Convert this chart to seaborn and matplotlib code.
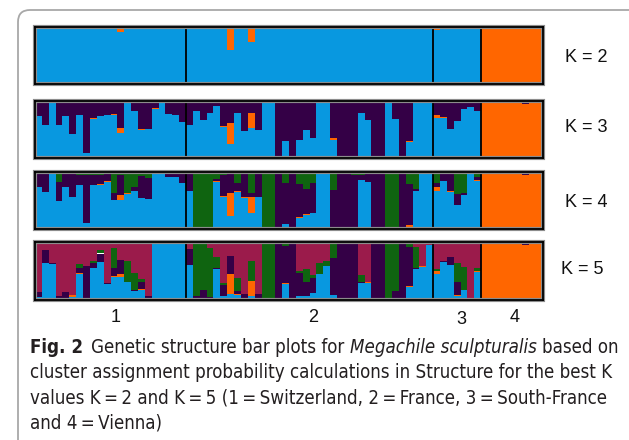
import numpy as np
import pandas as pd
import matplotlib
matplotlib.use("Agg")
import matplotlib.pyplot as plt
import seaborn as sns
from matplotlib import font_manager
from matplotlib.patches import FancyBboxPatch, Rectangle
from matplotlib.transforms import IdentityTransform

# ------------------------------------------------------------
# data: STRUCTURE membership (q) per individual, 74 bees
# pops: 1 = Switzerland, 2 = France, 3 = South-France, 4 = Vienna
# top cluster of every panel is whatever is left up to 1
# ------------------------------------------------------------
pop_sizes = [22, 36, 7, 9]
pop_labels = ["1", "2", "3", "4"]
k_labels = ["K = 2", "K = 3", "K = 4", "K = 5"]

# K = 2 : blue (orange is the rest)
k2_blue = [
    0.98, 0.98, 0.98, 0.98, 0.98, 1.00, 0.98, 0.98, 0.98, 0.98, 0.98, 0.98, 0.92, 0.98, 0.98, 0.98, 0.98, 0.98, 0.98, 0.98, 0.98, 0.98,
    0.98, 0.98, 0.98, 0.98, 0.98, 0.98, 0.60, 0.98, 0.98, 0.74, 0.98, 0.98, 0.98, 0.98, 0.98, 0.98, 0.98, 0.98,
    0.98, 0.98, 0.98, 0.98, 0.98, 0.98, 0.98, 0.98, 0.98, 0.98, 0.98, 0.98, 0.98, 0.98, 0.98, 0.98, 0.98, 0.98,
    0.94, 0.98, 0.98, 0.98, 0.98, 0.98, 0.98,
    0.02, 0.02, 0.02, 0.02, 0.02, 0.02, 0.03, 0.02, 0.02]

# K = 3 : blue, orange (purple is the rest)
k3_blue = [
    0.74, 0.58, 1.00, 0.58, 0.74, 0.42, 0.76, 0.10, 0.69, 0.74, 0.76, 0.76, 0.44, 0.96, 0.83, 0.50, 0.51, 0.86, 0.96, 0.77, 0.76, 0.63,
    0.58, 0.83, 0.67, 0.79, 0.92, 0.55, 0.25, 0.79, 0.48, 0.53, 0.49, 0.97, 0.97, 0.00, 0.30, 0.00, 0.33, 0.49,
    0.35, 0.98, 0.98, 0.33, 0.00, 0.00, 0.00, 0.79, 0.67, 0.00, 0.00, 0.99, 0.69, 0.00, 0.29, 0.98, 0.98, 0.98,
    0.71, 0.71, 0.51, 0.65, 0.86, 0.90, 0.82,
    0.00, 0.00, 0.00, 0.00, 0.00, 0.00, 0.00, 0.00, 0.00]
k3_orange = [
    0.00, 0.00, 0.00, 0.00, 0.00, 0.00, 0.00, 0.00, 0.01, 0.00, 0.00, 0.015, 0.095, 0.01, 0.00, 0.01, 0.00, 0.01, 0.01, 0.00, 0.00, 0.01,
    0.00, 0.00, 0.00, 0.00, 0.00, 0.01, 0.36, 0.00, 0.00, 0.26, 0.01, 0.02, 0.02, 0.00, 0.00, 0.00, 0.00, 0.00,
    0.00, 0.02, 0.02, 0.02, 0.00, 0.00, 0.00, 0.00, 0.00, 0.00, 0.00, 0.00, 0.00, 0.00, 0.01, 0.02, 0.02, 0.00,
    0.05, 0.01, 0.01, 0.01, 0.00, 0.00, 0.01,
    1.00, 1.00, 1.00, 1.00, 1.00, 1.00, 0.94, 1.00, 1.00]

# K = 4 : blue, orange, purple (green is the rest)
k4_blue = [
    0.74, 0.65, 0.975, 0.49, 0.74, 0.56, 0.77, 0.11, 0.78, 0.78, 0.83, 0.52, 0.52, 0.62, 0.67, 0.54, 0.525, 0.99, 0.99, 0.91, 0.91, 0.80,
    0.67, 0.00, 0.00, 0.04, 0.83, 0.57, 0.24, 0.65, 0.54, 0.28, 0.56, 0.00, 0.00, 0.00, 0.09, 0.00, 0.20, 0.26,
    0.28, 0.96, 0.975, 0.02, 0.00, 0.00, 0.00, 0.86, 0.825, 0.00, 0.00, 0.00, 0.00, 0.00, 0.05, 0.675, 1.00, 1.00,
    0.675, 0.84, 0.656, 0.42, 0.60, 1.00, 0.84,
    0.00, 0.00, 0.00, 0.00, 0.00, 0.00, 0.00, 0.00, 0.00]
k4_orange = [
    0.00, 0.00, 0.015, 0.01, 0.00, 0.01, 0.00, 0.00, 0.00, 0.01, 0.01, 0.00, 0.075, 0.01, 0.00, 0.00, 0.00, 0.00, 0.00, 0.00, 0.00, 0.01,
    0.00, 0.00, 0.00, 0.01, 0.02, 0.02, 0.39, 0.02, 0.02, 0.28, 0.00, 0.00, 0.00, 0.00, 0.00, 0.00, 0.01, 0.01,
    0.00, 0.00, 0.00, 0.00, 0.00, 0.00, 0.00, 0.00, 0.00, 0.00, 0.00, 0.00, 0.00, 0.00, 0.025, 0.00, 0.00, 0.00,
    0.06, 0.01, 0.02, 0.00, 0.00, 0.00, 0.02,
    1.00, 1.00, 1.00, 1.00, 1.00, 1.00, 0.945, 1.00, 1.00]
k4_purple = [
    0.235, 0.34, 0.00, 0.32, 0.235, 0.41, 0.17, 0.83, 0.17, 0.15, 0.14, 0.12, 0.35, 0.00, 0.075, 0.39, 0.37, 0.00, 0.00, 0.08, 0.08, 0.17,
    0.32, 0.00, 0.04, 0.00, 0.025, 0.36, 0.36, 0.135, 0.43, 0.08, 0.43, 0.00, 0.00, 1.00, 0.71, 1.00, 0.575, 0.44,
    0.53, 0.00, 0.00, 0.66, 1.00, 1.00, 0.955, 0.09, 0.175, 1.00, 1.00, 0.00, 0.02, 1.00, 0.71, 0.025, 0.00, 0.00,
    0.075, 0.14, 0.32, 0.20, 0.04, 0.00, 0.06,
    0.00, 0.00, 0.00, 0.00, 0.00, 0.00, 0.055, 0.00, 0.00]

# K = 5 : blue, orange, purple, green (crimson is the rest)
k5_blue = [
    0.036, 0.63, 0.62, 0.02, 0.02, 0.05, 0.44, 0.02, 0.54, 0.65, 0.277, 0.39, 0.39, 0.307, 0.15, 0.17, 0.02, 0.964, 0.98, 0.98, 0.98, 0.98,
    0.60, 0.00, 0.01, 0.03, 0.53, 0.054, 0.09, 0.072, 0.00, 0.06, 0.00, 0.00, 0.00, 0.02, 0.277, 0.01, 0.066, 0.054,
    0.108, 0.45, 0.58, 0.072, 0.00, 0.02, 0.00, 0.29, 0.29, 0.02, 0.00, 0.00, 0.00, 0.02, 0.22, 0.53, 0.57, 0.94,
    0.44, 0.65, 0.60, 0.066, 0.157, 0.02, 0.47,
    0.02, 0.02, 0.02, 0.02, 0.02, 0.02, 0.02, 0.02, 0.02]
k5_orange = [
    0.00, 0.00, 0.00, 0.00, 0.00, 0.024, 0.02, 0.00, 0.00, 0.00, 0.00, 0.012, 0.048, 0.00, 0.00, 0.012, 0.00, 0.00, 0.00, 0.00, 0.00, 0.00,
    0.00, 0.00, 0.01, 0.00, 0.00, 0.00, 0.35, 0.018, 0.00, 0.27, 0.00, 0.02, 0.00, 0.00, 0.018, 0.00, 0.00, 0.00,
    0.00, 0.00, 0.00, 0.00, 0.02, 0.00, 0.00, 0.00, 0.018, 0.00, 0.00, 0.02, 0.00, 0.00, 0.018, 0.00, 0.012, 0.00,
    0.06, 0.00, 0.00, 0.012, 0.00, 0.00, 0.024,
    0.96, 0.96, 0.96, 0.96, 0.96, 0.96, 0.93, 0.96, 0.96]
k5_purple = [
    0.09, 0.23, 0.01, 0.036, 0.108, 0.00, 0.084, 0.57, 0.09, 0.15, 0.012, 0.14, 0.25, 0.00, 0.018, 0.127, 0.036, 0.00, 0.00, 0.00, 0.00, 0.00,
    0.27, 0.06, 0.15, 0.012, 0.018, 0.19, 0.32, 0.06, 0.09, 0.00, 0.09, 0.00, 0.00, 0.95, 0.64, 0.96, 0.40, 0.25,
    0.27, 0.00, 0.00, 0.65, 0.96, 0.96, 0.98, 0.018, 0.00, 0.96, 0.98, 0.00, 0.15, 0.96, 0.67, 0.018, 0.00, 0.00,
    0.00, 0.018, 0.14, 0.23, 0.012, 0.00, 0.00,
    0.00, 0.00, 0.00, 0.00, 0.00, 0.00, 0.04, 0.00, 0.00]
k5_green = [
    0.00, 0.00, 0.01, 0.00, 0.00, 0.00, 0.066, 0.00, 0.036, 0.06, 0.00, 0.35, 0.00, 0.36, 0.29, 0.05, 0.00, 0.00, 0.00, 0.00, 0.00, 0.00,
    0.00, 0.91, 0.79, 0.85, 0.19, 0.036, 0.00, 0.23, 0.00, 0.34, 0.00, 0.98, 1.00, 0.00, 0.04, 0.00, 0.03, 0.22,
    0.04, 0.18, 0.09, 0.26, 0.00, 0.00, 0.00, 0.12, 0.00, 0.00, 0.00, 0.96, 0.83, 0.00, 0.07, 0.37, 0.00, 0.00,
    0.03, 0.00, 0.00, 0.33, 0.39, 0.00, 0.05,
    0.01, 0.01, 0.01, 0.01, 0.01, 0.01, 0.00, 0.01, 0.01]

# cluster colours, bottom of the stack first
cluster_colors = {"blue": "#0898e0", "orange": "#ff6600", "purple": "#340046",
                  "green": "#0f6410", "crimson": "#9b1b4b"}
cluster_order = ["blue", "orange", "purple", "green", "crimson"]

panels = [
    [k2_blue],
    [k3_blue, k3_orange],
    [k4_blue, k4_orange, k4_purple],
    [k5_blue, k5_orange, k5_purple, k5_green],
]


def long_table(parts):
    # stack the given cluster columns and add the top cluster as the remainder
    arr = np.array(parts, dtype=float)
    top = np.clip(1 - arr.sum(axis=0), 0, None)
    arr = np.vstack([arr, top])
    rows = []
    for c, vals in enumerate(arr):
        for i, v in enumerate(vals):
            rows.append((i, cluster_order[c], v))
    return pd.DataFrame(rows, columns=["ind", "cluster", "q"])


# ------------------------------------------------------------
# figure
# ------------------------------------------------------------
sns.set_theme(style="white")
plt.rcParams["font.family"] = ["Liberation Sans", "DejaVu Sans"]

W, H = 629, 440
fig = plt.figure(figsize=(W / 100, H / 100), dpi=100)

n_ind = sum(pop_sizes)
panel_tops = [27, 101, 172, 242]     # px from the top
panel_h = 57.5
ax_left, ax_right = 35, 543

for k, parts in enumerate(panels):
    df = long_table(parts)
    used = cluster_order[:len(parts) + 1]
    rect = [ax_left / W, 1 - (panel_tops[k] + panel_h) / H, (ax_right - ax_left) / W, panel_h / H]
    ax = fig.add_axes(rect)
    sns.histplot(data=df, x="ind", weights="q", hue="cluster", hue_order=used[::-1],
                 palette=cluster_colors, multiple="stack", discrete=True, shrink=1,
                 linewidth=0, edgecolor="none", alpha=1, legend=False, ax=ax)
    ax.set_xlim(-0.5, n_ind - 0.5)
    ax.set_ylim(0, 1)
    ax.set_xticks([])
    ax.set_yticks([])
    ax.set_xlabel("")
    ax.set_ylabel("")
    for b in np.cumsum(pop_sizes)[:-1]:
        ax.axvline(b - 0.5, color="black", lw=1.3, zorder=4)
    # grey outer frame + black inner frame
    ax.add_patch(Rectangle((0, 0), 1, 1, transform=ax.transAxes, fill=False,
                           ec="#8c8c8c", lw=3, clip_on=False, zorder=5))
    for s in ax.spines.values():
        s.set_color("black")
        s.set_linewidth(1.3)
        s.set_zorder(6)

# K labels
k_label_pos = [(565, 58), (565, 128), (565, 202), (561, 270)]
for lab, (x, y) in zip(k_labels, k_label_pos):
    fig.text(x / W, 1 - y / H, lab, fontsize=13, ha="left", va="center", color="#111111")

# population labels
pop_label_pos = [(116, 317), (313, 317), (461, 319), (515, 317)]
for lab, (x, y) in zip(pop_labels, pop_label_pos):
    fig.text(x / W, 1 - y / H, lab, fontsize=13, ha="center", va="center", color="#111111")

# rounded frame of the figure box
frame = FancyBboxPatch((18, -40), 700, 470, boxstyle="round,pad=0,rounding_size=12",
                       transform=IdentityTransform(), fc="none", ec="#a8a8a8", lw=1.3)
fig.add_artist(frame)

# caption: pick a narrow face if one is installed, then size it to the caption width
fonts = font_manager.fontManager.ttflist
names = {f.name for f in fonts}
cap_font, cap_stretch = "Liberation Sans", "normal"
if "Liberation Sans Narrow" in names:
    cap_font = "Liberation Sans Narrow"
elif any(f.name == "DejaVu Sans" and f.stretch == "condensed" for f in fonts):
    cap_font, cap_stretch = "DejaVu Sans", "condensed"
elif any(f.name == "Open Sans" and f.stretch in ("condensed", "semi-condensed") for f in fonts):
    cap_font, cap_stretch = "Open Sans", "condensed"

renderer = fig.canvas.get_renderer()
cap_size = 13.5


def text_w(s, **kw):
    t = fig.text(0, 0, s, fontsize=cap_size, family=cap_font, fontstretch=cap_stretch, **kw)
    w = t.get_window_extent(renderer).width
    t.remove()
    return w


# the second caption line runs from x=30 to x=611 in the reference
cap_size = min(13.5, cap_size * 581 / text_w("cluster assignment probability calculations in Structure for the best K"))
space = text_w("x x") - text_w("xx")

eq = "\u2009=\u2009"
cap_lines = [
    [("Fig. 2", "bold", "normal"), (1.5, None, None), ("Genetic structure bar plots for", "normal", "normal"),
     (1, None, None), ("Megachile sculpturalis", "normal", "italic"), (1, None, None), ("based on", "normal", "normal")],
    [("cluster assignment probability calculations in Structure for the best K", "normal", "normal")],
    [(f"values K{eq}2 and K{eq}5 (1{eq}Switzerland, 2{eq}France, 3{eq}South-France", "normal", "normal")],
    [(f"and 4{eq}Vienna)", "normal", "normal")],
]
cap_y = [353, 378, 403, 428]   # baselines, px from top
for line, y in zip(cap_lines, cap_y):
    x = 30
    for txt, weight, style in line:
        if weight is None:
            x += space * txt
            continue
        t = fig.text(x / W, 1 - y / H, txt, fontsize=cap_size, family=cap_font, fontstretch=cap_stretch,
                     fontweight=weight, fontstyle=style, va="baseline", ha="left", color="#231f20")
        x = t.get_window_extent(renderer).x1

fig.savefig("out.png", dpi=100)
